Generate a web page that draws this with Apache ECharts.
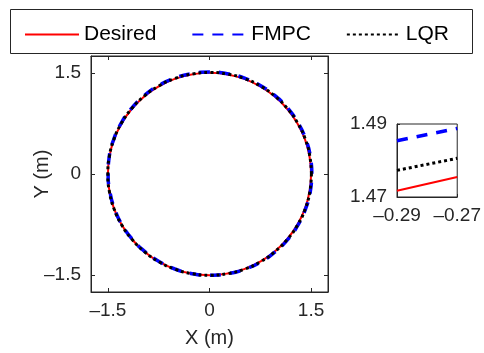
<!DOCTYPE html>
<html>
<head>
<meta charset="utf-8">
<script src="https://cdn.jsdelivr.net/npm/echarts@6/dist/echarts.min.js"></script>
<style>
  html, body { margin: 0; padding: 0; background: #fff; }
  #chart { width: 484px; height: 353px; }
</style>
</head>
<body>
<div id="chart"></div>
<script>
// ---- data ----
const seriesNames = ['Desired', 'FMPC', 'LQR'];

// main plot: trajectories, sampled every 10 deg
const desiredX = [1.500, 1.477, 1.410, 1.299, 1.149, 0.964, 0.750, 0.513, 0.260, 0.000,
  -0.260, -0.513, -0.750, -0.964, -1.149, -1.299, -1.410, -1.477, -1.500,
  -1.477, -1.410, -1.299, -1.149, -0.964, -0.750, -0.513, -0.260, 0.000,
  0.260, 0.513, 0.750, 0.964, 1.149, 1.299, 1.410, 1.477, 1.500];
const desiredY = [0.000, 0.260, 0.513, 0.750, 0.964, 1.149, 1.299, 1.410, 1.477, 1.500,
  1.477, 1.410, 1.299, 1.149, 0.964, 0.750, 0.513, 0.260, 0.000,
  -0.260, -0.513, -0.750, -0.964, -1.149, -1.299, -1.410, -1.477, -1.500,
  -1.477, -1.410, -1.299, -1.149, -0.964, -0.750, -0.513, -0.260, 0.000];

const fmpcX = [1.512, 1.489, 1.420, 1.308, 1.158, 0.972, 0.757, 0.518, 0.262, 0.002,
  -0.262, -0.518, -0.757, -0.971, -1.156, -1.306, -1.415, -1.481, -1.497,
  -1.470, -1.402, -1.291, -1.141, -0.958, -0.746, -0.511, -0.258, 0.004,
  0.264, 0.518, 0.756, 0.970, 1.157, 1.308, 1.420, 1.489, 1.512];
const fmpcY = [0.004, 0.266, 0.519, 0.757, 0.972, 1.158, 1.309, 1.421, 1.488, 1.512,
  1.488, 1.420, 1.308, 1.156, 0.968, 0.752, 0.512, 0.255, -0.006,
  -0.266, -0.518, -0.754, -0.966, -1.148, -1.297, -1.409, -1.478, -1.502,
  -1.480, -1.414, -1.304, -1.154, -0.969, -0.754, -0.515, -0.259, 0.004];

const lqrX = [1.505, 1.482, 1.415, 1.303, 1.153, 0.968, 0.753, 0.515, 0.261, 0.001,
  -0.261, -0.515, -0.753, -0.967, -1.152, -1.302, -1.412, -1.479, -1.501,
  -1.478, -1.410, -1.298, -1.148, -0.963, -0.749, -0.513, -0.259, 0.002,
  0.262, 0.515, 0.753, 0.966, 1.152, 1.303, 1.415, 1.482, 1.505];
const lqrY = [0.002, 0.262, 0.516, 0.753, 0.968, 1.153, 1.304, 1.415, 1.482, 1.505,
  1.482, 1.415, 1.303, 1.152, 0.966, 0.751, 0.513, 0.259, -0.002,
  -0.262, -0.515, -0.752, -0.965, -1.150, -1.300, -1.410, -1.478, -1.501,
  -1.478, -1.412, -1.301, -1.151, -0.966, -0.752, -0.514, -0.260, 0.002];

// zoomed inset
const insetX = [-0.29, -0.27];
const insetDesired = [1.4717, 1.4755];
const insetFmpc = [1.4854, 1.4888];
const insetLqr = [1.4773, 1.4806];

// tick labels
const mainTicks = [-1.5, 0, 1.5];
const insetXTicks = [-0.29, -0.27];
const insetYTicks = [1.47, 1.49];

// ---- styling ----
const INK = '#262626';
const FONT = 'Liberation Sans';
const styles = {
  Desired: { color: '#ff0000', width: 2, type: 'solid' },
  FMPC: { color: '#0000ff', width: 3.5, type: [11, 9] },
  LQR: { color: '#000000', width: 3, type: [3, 3] },
};

const zip = (xs, ys) => xs.map((x, i) => [x, ys[i]]);
const fmt = (d) => (v) => (Math.abs(v) < 1e-9 ? '0' : (v < 0 ? '\u2013' : '') + Math.abs(v).toFixed(d));

function axis(opts) {
  return Object.assign({
    type: 'value',
    splitLine: { show: false },
    axisLine: { show: true, onZero: false, lineStyle: { color: INK, width: 1 } },
    axisTick: { show: true, inside: true, length: 4, lineStyle: { color: INK } },
    axisLabel: { color: INK, fontFamily: FONT, fontSize: 19 },
  }, opts);
}

const chart = echarts.init(document.getElementById('chart'), null, { renderer: 'canvas' });

const mainData = { Desired: zip(desiredX, desiredY), FMPC: zip(fmpcX, fmpcY), LQR: zip(lqrX, lqrY) };
const insetData = {
  Desired: zip(insetX, insetDesired),
  FMPC: zip(insetX, insetFmpc),
  LQR: zip(insetX, insetLqr),
};

const series = [];
seriesNames.forEach((n) => {
  series.push({
    name: n, type: 'line', xAxisIndex: 0, yAxisIndex: 0, data: mainData[n],
    symbol: 'none', smooth: true, animation: false,
    lineStyle: styles[n], itemStyle: { color: styles[n].color },
  });
});
seriesNames.forEach((n) => {
  series.push({
    name: n, type: 'line', xAxisIndex: 2, yAxisIndex: 2, data: insetData[n],
    symbol: 'none', animation: false, clip: true,
    lineStyle: styles[n], itemStyle: { color: styles[n].color },
  });
});

chart.setOption({
  backgroundColor: '#fff',
  animation: false,
  graphic: [{
    type: 'rect', z: -1,
    shape: { x: 10.5, y: 9.5, width: 462, height: 44 },
    style: { fill: '#fff', stroke: INK, lineWidth: 1 },
  }],
  legend: {
    data: seriesNames,
    left: 19, top: 19,
    itemWidth: 54, itemHeight: 14, itemGap: 35,
    itemStyle: { opacity: 0 },
    textStyle: { color: '#000', fontFamily: FONT, fontSize: 21 },
  },
  grid: [
    { left: 91, top: 56, width: 237, height: 236, show: true, borderColor: INK, borderWidth: 1, backgroundColor: '#fff' },
    { left: 397, top: 124, width: 72, height: 73, show: true, borderColor: INK, borderWidth: 1, backgroundColor: '#fff' },
  ],
  xAxis: [
    axis({
      gridIndex: 0, min: -1.75, max: 1.75, position: 'bottom',
      axisTick: { show: true, inside: true, length: 4, lineStyle: { color: INK }, customValues: mainTicks },
      axisLabel: { color: INK, fontFamily: FONT, fontSize: 19, margin: 9, customValues: mainTicks, formatter: fmt(1) },
      name: 'X (m)', nameLocation: 'middle', nameGap: 36,
      nameTextStyle: { color: INK, fontFamily: FONT, fontSize: 20 },
    }),
    axis({
      gridIndex: 0, min: -1.75, max: 1.75, position: 'top',
      axisTick: { show: true, inside: true, length: 4, lineStyle: { color: INK }, customValues: mainTicks },
      axisLabel: { show: false },
    }),
    axis({
      gridIndex: 1, min: -0.29, max: -0.27, position: 'bottom',
      axisTick: { show: true, inside: true, length: 3, lineStyle: { color: INK }, customValues: insetXTicks },
      axisLabel: { color: INK, fontFamily: FONT, fontSize: 19, margin: 9, customValues: insetXTicks, formatter: fmt(2) },
    }),
  ],
  yAxis: [
    axis({
      gridIndex: 0, min: -1.75, max: 1.75, position: 'left',
      axisTick: { show: true, inside: true, length: 4, lineStyle: { color: INK }, customValues: mainTicks },
      axisLabel: { color: INK, fontFamily: FONT, fontSize: 19, margin: 10, customValues: mainTicks, formatter: fmt(1) },
      name: 'Y (m)', nameLocation: 'middle', nameGap: 39, nameRotate: 90, nameMoveOverlap: false,
      nameTextStyle: { color: INK, fontFamily: FONT, fontSize: 20 },
    }),
    axis({
      gridIndex: 0, min: -1.75, max: 1.75, position: 'right',
      axisTick: { show: true, inside: true, length: 4, lineStyle: { color: INK }, customValues: mainTicks },
      axisLabel: { show: false },
    }),
    axis({
      gridIndex: 1, min: 1.47, max: 1.49, position: 'left',
      axisTick: { show: true, inside: true, length: 3, lineStyle: { color: INK }, customValues: insetYTicks },
      axisLabel: { color: INK, fontFamily: FONT, fontSize: 19, margin: 10, customValues: insetYTicks, formatter: fmt(2) },
    }),
  ],
  series: series,
});
</script>
</body>
</html>
